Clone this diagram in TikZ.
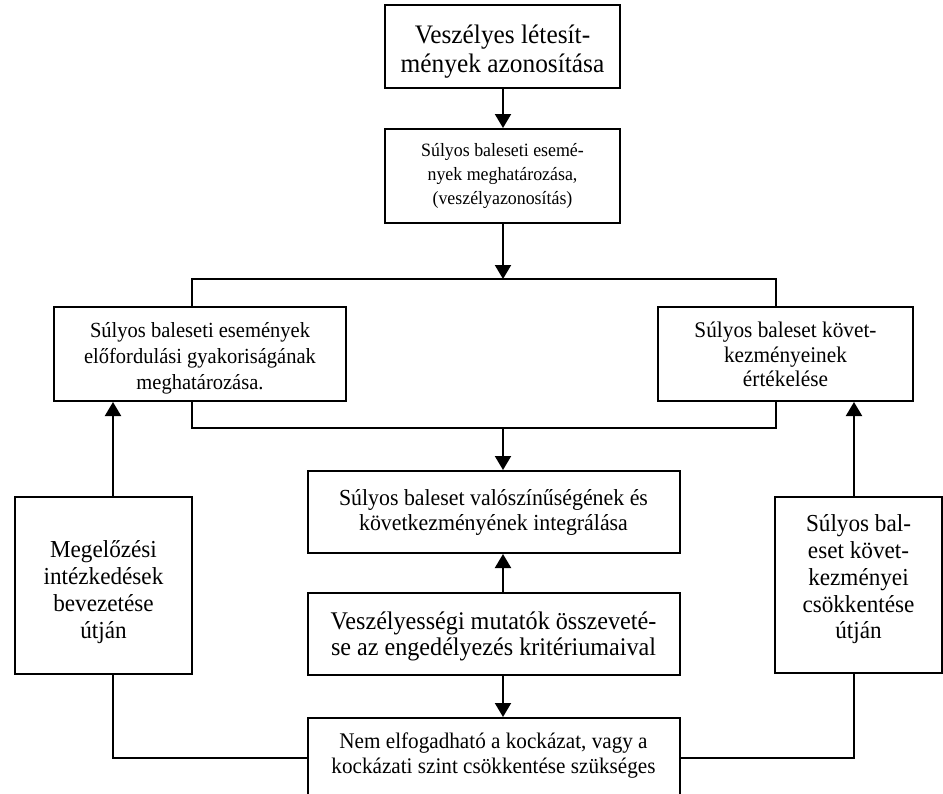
\documentclass[tikz,border=0pt]{standalone}
\usepackage{fontspec}
\setmainfont[FakeStretch=0.95]{Liberation Serif}
\usetikzlibrary{arrows.meta}
\newcommand{\fs}[2]{\fontsize{#1}{#2}\selectfont}
% box contents: width, height, top padding, lines
\newcommand{\boxtext}[4]{\parbox[c][#2][t]{#1}{\centering\vspace*{#3}\strut #4}}
\begin{document}
\begin{tikzpicture}[x=1pt,y=-1pt,
  box/.style={draw, line width=2pt, inner sep=0pt},
  link/.style={line width=2pt},
  arr/.style={link, -{Triangle[width=16pt,length=14pt]}},
  ]
\useasboundingbox (0,0) rectangle (943,793);
\clip (0,0) rectangle (943,793);

% boxes
\node[box, font=\fs{26.7}{29}] (b1) at (502.5,46.5)
  {\boxtext{235pt}{83pt}{18.5pt}{Veszélyes létesít-\\mények azonosítása}};
\node[box, font=\fs{18.8}{24}] (b2) at (502.5,176)
  {\boxtext{235pt}{94pt}{11pt}{Súlyos baleseti esemé-\\nyek meghatározása,\\(veszélyazonosítás)}};
\node[box, font=\fs{21.6}{26}] (L2) at (200,354)
  {\boxtext{292pt}{94pt}{12.5pt}{Súlyos baleseti események\\előfordulási gyakoriságának\\meghatározása.}};
\node[box, font=\fs{22.4}{24.5}] (R2) at (785.5,354)
  {\boxtext{255pt}{94pt}{13.5pt}{Súlyos baleset követ-\\kezményeinek\\értékelése}};
\node[box, font=\fs{23}{25}] (b3) at (493.5,512)
  {\boxtext{372pt}{82pt}{16.5pt}{Súlyos baleset valószínűségének és\\következményének integrálása}};
\node[box, font=\fs{25.4}{26}] (b4) at (493.5,634)
  {\boxtext{372pt}{82pt}{17.8pt}{Veszélyességi mutatók összeveté-\\se az engedélyezés kritériumaival}};
\node[box, anchor=north, font=\fs{22.3}{25}] (b5) at (493.5,717)
  {\boxtext{372pt}{80pt}{12.5pt}{Nem elfogadható a kockázat, vagy a\\kockázati szint csökkentése szükséges}};
\node[box, font=\fs{24.4}{26.7}] (LL) at (103.5,585.5)
  {\boxtext{177pt}{177pt}{42.3pt}{Megelőzési\\intézkedések\\bevezetése\\útján}};
\node[box, font=\fs{24.4}{26.7}] (RL) at (858.5,585)
  {\boxtext{167pt}{176pt}{16.3pt}{Súlyos bal-\\eset követ-\\kezményei\\csökkentése\\útján}};

% branch points and connector columns
\coordinate (split) at (503,279);
\coordinate (merge) at (503,428);
\coordinate (xl) at (192,0);
\coordinate (xr) at (776,0);
\coordinate (xll) at (113,0);
\coordinate (xrr) at (854,0);

% connectors
\draw[arr] (b1.south -| split) -- (b2.north -| split);
\draw[arr] (b2.south -| split) -- (split);
\draw[link] (L2.north -| xl) |- (split) -| (R2.north -| xr);
\draw[link] (L2.south -| xl) |- (merge) -| (R2.south -| xr);
\draw[arr] (merge) -- (b3.north -| merge);
\draw[arr] (b4.north -| merge) -- (b3.south -| merge);
\draw[arr] (b4.south -| merge) -- (b5.north -| merge);
\draw[arr] (LL.north -| xll) -- (L2.south -| xll);
\draw[arr] (RL.north -| xrr) -- (R2.south -| xrr);
\draw[link] (LL.south -| xll) |- (b5.west);
\draw[link] (RL.south -| xrr) |- (b5.east);
\end{tikzpicture}
\end{document}
